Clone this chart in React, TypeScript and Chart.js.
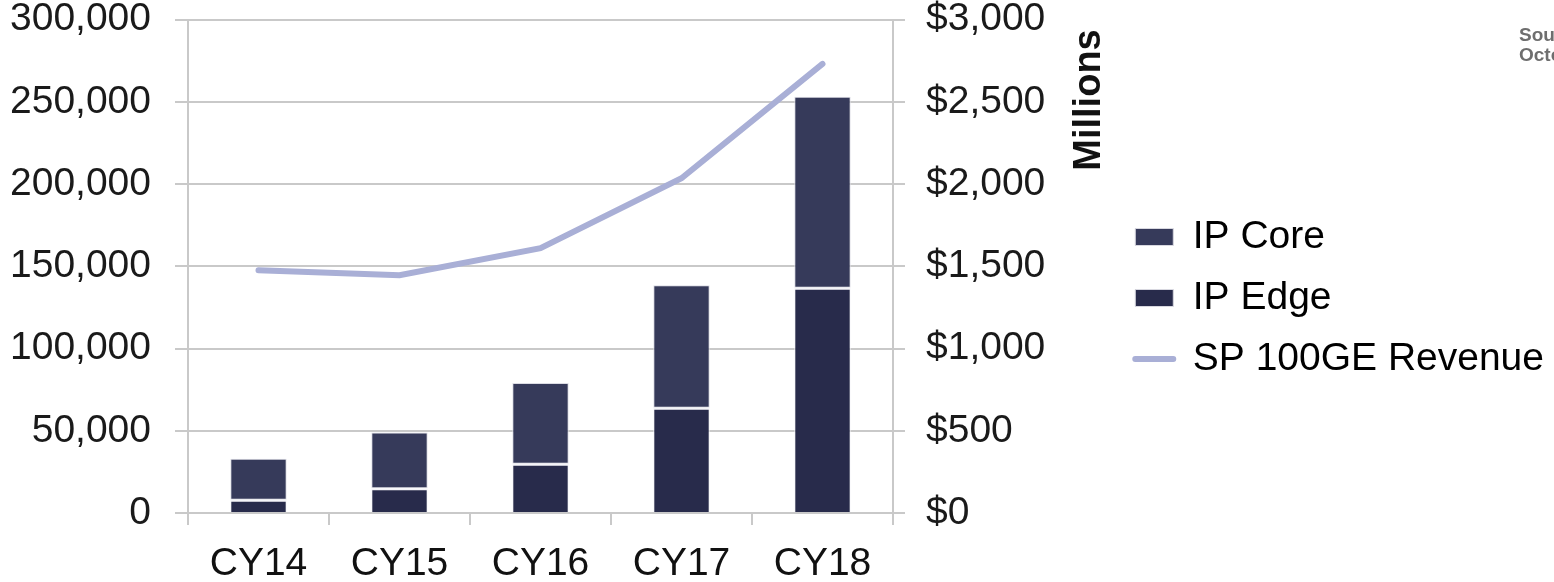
import React, { useEffect, useRef } from "react";
import { Chart, registerables } from "chart.js";

Chart.register(...registerables);

const categories = ["CY14", "CY15", "CY16", "CY17", "CY18"];
const ipEdge = [8000, 15000, 30000, 64000, 137000];
const ipCore = [25000, 34000, 49000, 74500, 116000];
const revenue = [1475, 1445, 1610, 2035, 2730];
const leftTicks = [0, 50000, 100000, 150000, 200000, 250000, 300000];
const rightTicks = [0, 500, 1000, 1500, 2000, 2500, 3000];

const FONT = "'Liberation Sans', Arial, sans-serif";
const GRID = "#c9c9c9";
const CORE = "#363a5a";
const EDGE = "#282b4b";
const LINE = "#a9afd6";

const millionsTitle = {
  id: "millionsTitle",
  afterDraw(chart: any) {
    const ctx = chart.ctx;
    ctx.save();
    ctx.translate(1100, 100);
    ctx.rotate(-Math.PI / 2);
    ctx.font = `bold 38px ${FONT}`;
    ctx.fillStyle = "#111";
    ctx.textAlign = "center";
    ctx.textBaseline = "alphabetic";
    ctx.fillText("Millions", 0, 0);
    ctx.restore();
  },
};

export default function App() {
  const ref = useRef<HTMLCanvasElement>(null);
  useEffect(() => {
    if (!ref.current) return;
    const chart = new Chart(ref.current, {
      type: "bar",
      data: {
        labels: categories,
        datasets: [
          {
            type: "line",
            label: "SP 100GE Revenue",
            data: revenue,
            yAxisID: "y1",
            borderColor: LINE,
            backgroundColor: LINE,
            borderWidth: 6,
            borderCapStyle: "round",
            pointRadius: 0,
            tension: 0,
            order: 0,
          } as any,
          {
            label: "IP Edge",
            data: ipEdge,
            yAxisID: "y",
            backgroundColor: EDGE,
            borderColor: "#f4f4f8",
            borderWidth: { top: 2, left: 1, right: 1, bottom: 0 },
            borderSkipped: false,
            stack: "s",
            order: 1,
          } as any,
          {
            label: "IP Core",
            data: ipCore,
            yAxisID: "y",
            backgroundColor: CORE,
            borderColor: "#dcdce4",
            borderWidth: 1,
            borderSkipped: false,
            stack: "s",
            order: 1,
          } as any,
        ],
      },
      options: {
        responsive: false,
        animation: false,
        layout: { padding: { top: 14, left: 0, right: 0, bottom: 0 } },
        datasets: { bar: { barPercentage: 0.4, categoryPercentage: 1 } } as any,
        plugins: {
          tooltip: { enabled: false },
          legend: {
            position: "right",
            maxWidth: 470,
            labels: {
              font: { family: FONT, size: 39 },
              color: "#111",
              padding: 22,
              usePointStyle: true,
              pointStyleWidth: 38,
              boxHeight: 17,
              boxWidth: 38,
              generateLabels: () => [
                { text: "IP Core", fillStyle: CORE, strokeStyle: "#d8d8e0", lineWidth: 1, pointStyle: "rect", datasetIndex: 2, hidden: false },
                { text: "IP Edge", fillStyle: EDGE, strokeStyle: "#d8d8e0", lineWidth: 1, pointStyle: "rect", datasetIndex: 1, hidden: false },
                { text: "SP 100GE Revenue", fillStyle: LINE, strokeStyle: LINE, lineWidth: 6, lineCap: "round", pointStyle: "line", datasetIndex: 0, hidden: false },
              ] as any,
            },
          } as any,
        },
        scales: {
          x: {
            stacked: true,
            offset: true,
            grid: { display: true, drawOnChartArea: false, drawTicks: true, tickLength: 12, offset: true, color: GRID, lineWidth: 2 },
            border: { display: true, color: GRID, width: 2 },
            ticks: { font: { family: FONT, size: 39, lineHeight: 1 }, color: "#111", padding: 20 },
            afterFit: (s: any) => { s.height = 69; },
          },
          y: {
            stacked: true,
            position: "left",
            min: 0,
            max: 300000,
            afterBuildTicks: (s: any) => { s.ticks = leftTicks.map((v) => ({ value: v })); },
            grid: { color: GRID, lineWidth: 2, tickLength: 13 },
            border: { display: true, color: GRID, width: 2 },
            ticks: {
              font: { family: FONT, size: 39, lineHeight: 1 },
              color: "#1a1a1a",
              padding: 24,
              callback: (v: any) => Number(v).toLocaleString("en-US"),
            },
            afterFit: (s: any) => { s.width = 188; s.paddingTop = 19.5; s.paddingBottom = 0; },
          },
          y1: {
            position: "right",
            min: 0,
            max: 3000,
            afterBuildTicks: (s: any) => { s.ticks = rightTicks.map((v) => ({ value: v })); },
            grid: { drawOnChartArea: false, color: GRID, lineWidth: 2, tickLength: 12 },
            border: { display: true, color: GRID, width: 2 },
            ticks: {
              font: { family: FONT, size: 39, lineHeight: 1 },
              color: "#1a1a1a",
              padding: 21,
              callback: (v: any) => "$" + Number(v).toLocaleString("en-US"),
            },
            afterFit: (s: any) => {
              const lg = s.chart.legend;
              const lw = lg && lg.width ? lg.width : 440;
              s.width = s.chart.width - lw - 893;
              s.paddingTop = 19.5;
              s.paddingBottom = 0;
            },
          },
        },
      },
      plugins: [millionsTitle],
    });
    return () => chart.destroy();
  }, []);

  return (
    <div style={{ position: "absolute", left: 0, top: 0, width: 1554, height: 582, overflow: "hidden", background: "#fff" }}>
      <canvas ref={ref} width={1554} height={582} style={{ display: "block" }} />
      <div
        style={{
          position: "absolute",
          left: 1519,
          top: 25,
          fontFamily: FONT,
          fontWeight: "bold",
          fontSize: 19,
          lineHeight: "20px",
          color: "#6e6e6e",
          whiteSpace: "nowrap",
        }}
      >
        <div>Source</div>
        <div>October</div>
      </div>
    </div>
  );
}
